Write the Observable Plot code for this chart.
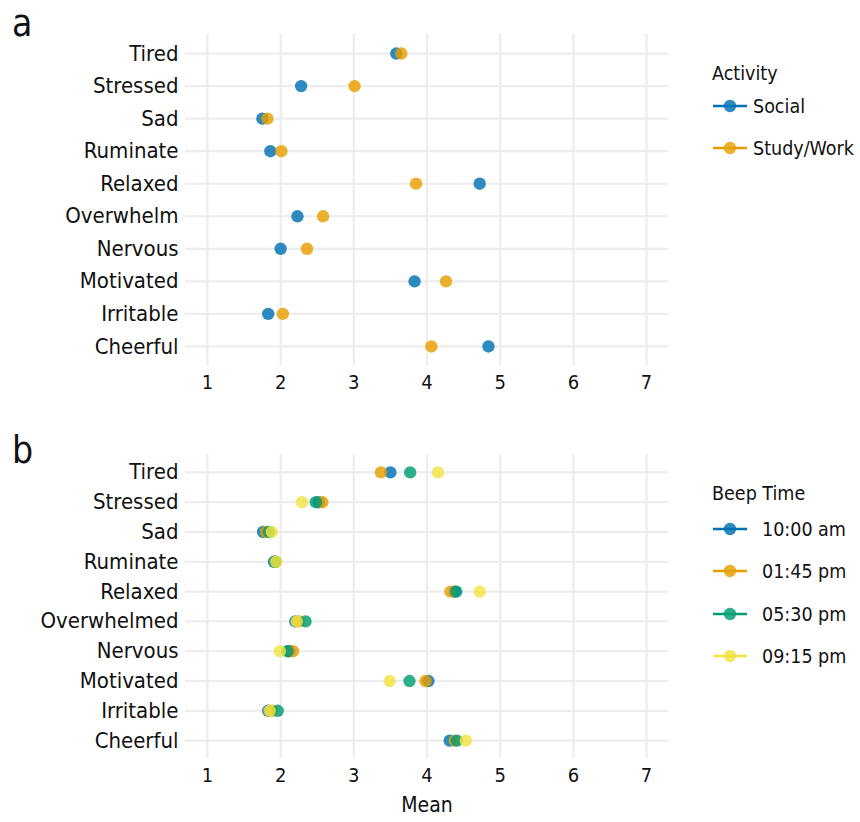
<!DOCTYPE html>
<html>
<head>
<meta charset="utf-8">
<script src="https://cdn.jsdelivr.net/npm/d3@7"></script>
<script src="https://cdn.jsdelivr.net/npm/@observablehq/plot@0.6"></script>
<style>
  html, body { margin: 0; padding: 0; background: #fff; }
  #wrap { position: relative; width: 860px; height: 822px; font-family: "DejaVu Sans Condensed", "Liberation Sans Narrow", "Roboto", sans-serif; }
  .panel { position: absolute; left: 0; }
  svg.legend { position: absolute; left: 0; top: 0; overflow: visible; }
</style>
</head>
<body>
<div id="wrap"></div>
<script>
// ---------- data ----------
const emotionsA = ["Tired","Stressed","Sad","Ruminate","Relaxed","Overwhelm","Nervous","Motivated","Irritable","Cheerful"];
const activities = ["Social","Study/Work"];
const socialMeans = [3.58, 2.28, 1.75, 1.86, 4.72, 2.23, 2.00, 3.83, 1.83, 4.84];
const studyMeans  = [3.65, 3.01, 1.82, 2.01, 3.85, 2.58, 2.36, 4.26, 2.03, 4.06];

const emotionsB = ["Tired","Stressed","Sad","Ruminate","Relaxed","Overwhelmed","Nervous","Motivated","Irritable","Cheerful"];
const beepTimes = ["10:00 am","01:45 pm","05:30 pm","09:15 pm"];
const beep1000 = [3.50, 2.52, 1.76, 1.91, 4.38, 2.20, 2.12, 4.02, 1.83, 4.31];
const beep0145 = [3.37, 2.57, 1.80, 1.93, 4.32, 2.25, 2.17, 3.98, 1.88, 4.38];
const beep0530 = [3.77, 2.48, 1.84, 1.93, 4.40, 2.34, 2.09, 3.76, 1.96, 4.41];
const beep0915 = [4.15, 2.29, 1.88, 1.94, 4.72, 2.22, 1.99, 3.49, 1.85, 4.53];

const xTicks = [1,2,3,4,5,6,7];
const palA = ["#0072B2","#E69F00"];
const palB = ["#0072B2","#E69F00","#009E73","#F0E442"];

// ---------- tables ----------
const dataA = [];
[socialMeans, studyMeans].forEach((arr, i) => arr.forEach((v, j) => dataA.push({emotion: emotionsA[j], group: activities[i], mean: v})));
const dataB = [];
[beep1000, beep0145, beep0530, beep0915].forEach((arr, i) => arr.forEach((v, j) => dataB.push({emotion: emotionsB[j], group: beepTimes[i], mean: v})));

const FONT = '"DejaVu Sans Condensed", "Liberation Sans Narrow", "Roboto", sans-serif';
const GRID = "#ededf0";

function panel(data, cats, groups, pal, opts) {
  return Plot.plot({
    width: 860,
    height: opts.height,
    marginLeft: 185,
    marginRight: 192,
    marginTop: opts.marginTop,
    marginBottom: opts.marginBottom,
    style: {fontFamily: FONT, background: "transparent", color: "#111"},
    x: {domain: [0.7, 7.3], ticks: xTicks},
    y: {type: "point", domain: cats, padding: 0.6, round: false},
    color: {domain: groups, range: pal},
    marks: [
      Plot.gridX(xTicks, {stroke: GRID, strokeOpacity: 1, strokeWidth: 2.2}),
      Plot.gridY(cats, {stroke: GRID, strokeOpacity: 1, strokeWidth: 2.2}),
      Plot.axisY({tickSize: 0, tickPadding: 7, fontSize: 22, label: null}),
      Plot.axisX({ticks: xTicks, tickFormat: d3.format("d"), tickSize: 0, tickPadding: 9, fontSize: 20, label: null}),
      Plot.dot(data, {x: "mean", y: "emotion", fill: "group", r: 6.2, fillOpacity: 0.82, stroke: "none"}),
      ...(opts.xlabel ? [Plot.text([opts.xlabel], {frameAnchor: "bottom", dy: 47, fontSize: 21, fill: "#111", lineAnchor: "middle"})] : [])
    ]
  });
}

const wrap = document.getElementById("wrap");

const pa = panel(dataA, emotionsA, activities, palA, {height: 400, marginTop: 33.5, marginBottom: 34.5});
pa.classList.add("panel"); pa.style.top = "0px";
wrap.appendChild(pa);

const pb = panel(dataB, emotionsB, beepTimes, palB, {height: 412, marginTop: 44, marginBottom: 64, xlabel: "Mean"});
pb.classList.add("panel"); pb.style.top = "410px";
wrap.appendChild(pb);

// legends and panel tags
const lg = d3.select(wrap).append("svg").attr("class", "legend").attr("width", 860).attr("height", 822)
  .style("font-family", FONT);

lg.append("text").attr("x", 12).attr("y", 36).attr("font-size", 37).attr("fill", "#111").text("a");
lg.append("text").attr("x", 12).attr("y", 463).attr("font-size", 37).attr("fill", "#111").text("b");

function legend(title, titleY, groups, pal, ys, textX, fs) {
  lg.append("text").attr("x", 712).attr("y", titleY).attr("dy", "0.35em")
    .attr("font-size", fs).attr("fill", "#111").text(title);
  groups.forEach((g, i) => {
    const y = ys[i];
    lg.append("line").attr("x1", 713).attr("x2", 747).attr("y1", y).attr("y2", y)
      .attr("stroke", pal[i]).attr("stroke-width", 2.6);
    lg.append("circle").attr("cx", 730).attr("cy", y).attr("r", 6.2)
      .attr("fill", pal[i]).attr("fill-opacity", 0.82);
    lg.append("text").attr("x", textX).attr("y", y).attr("dy", "0.35em")
      .attr("font-size", fs).attr("fill", "#111").text(g);
  });
}
legend("Activity", 73, activities, palA, [106, 148], 753, 19.5);
legend("Beep Time", 493, beepTimes, palB, [529, 571, 614, 656], 762, 19.5);
</script>
</body>
</html>
